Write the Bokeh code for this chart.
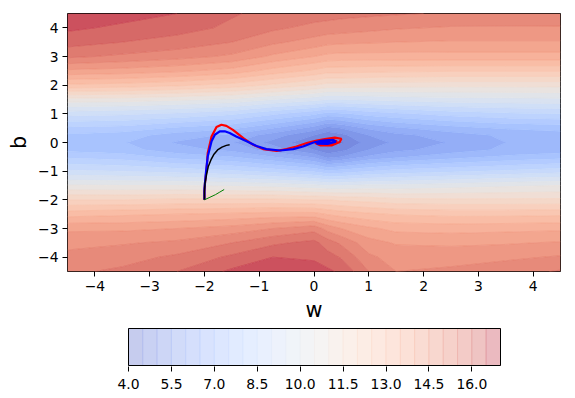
import numpy as np
from bokeh.plotting import figure
from bokeh.layouts import column
from bokeh.models import FixedTicker, NumeralTickFormatter
from bokeh.embed import file_html
from bokeh.resources import INLINE

# ---------------- data ----------------
W_GRID = [-4.5, -3.5, -2.5, -1.5, -0.75, 0.0, 0.25, 0.5, 1.0, 1.5, 2.5, 3.5, 4.5]
B_GRID = [-4.5, -4.0, -3.5, -3.0, -2.5, -2.0, -1.5, -1.0, -0.5, -0.25, 0.0,
          0.25, 0.5, 1.0, 1.5, 2.0, 2.5, 3.0, 3.5, 4.0, 4.5]
# loss value at (w, b): one row per b, one column per w
LOSS = [
    [15.4, 15.6, 16.0, 16.6, 16.9, 16.8, 16.6, 16.4, 15.5, 15.0, 15.1, 15.3, 15.55],
    [15.15, 15.3, 15.6, 16.1, 16.5, 16.4, 16.2, 15.95, 15.1, 14.8, 14.8, 14.9, 15.05],
    [14.85, 14.95, 15.1, 15.5, 15.9, 16.15, 15.75, 15.4, 14.7, 14.45, 14.4, 14.45, 14.55],
    [14.4, 14.4, 14.5, 14.7, 15.0, 15.3, 14.8, 14.5, 14.1, 13.85, 13.8, 13.85, 13.9],
    [13.3, 13.4, 13.5, 13.6, 13.7, 13.7, 13.45, 13.3, 13.1, 12.95, 12.85, 12.85, 12.9],
    [12.0, 12.0, 12.1, 12.1, 12.1, 12.0, 12.0, 11.9, 11.8, 11.65, 11.6, 11.6, 11.6],
    [10.55, 10.5, 10.5, 10.4, 10.3, 10.1, 10.0, 10.0, 10.1, 10.1, 10.25, 10.4, 10.5],
    [9.1, 9.0, 8.8, 8.6, 8.3, 7.9, 7.6, 7.7, 8.0, 8.2, 8.4, 8.6, 8.8],
    [7.9, 7.75, 7.3, 7.0, 6.5, 5.9, 5.3, 5.5, 6.1, 6.4, 6.8, 7.1, 7.3],
    [7.35, 7.2, 6.7, 6.35, 5.75, 5.0, 4.65, 4.85, 5.5, 5.85, 6.25, 6.6, 6.75],
    [7.2, 7.05, 6.45, 6.05, 5.35, 4.6, 4.25, 4.45, 5.25, 5.6, 6.05, 6.5, 6.6],
    [7.4, 7.25, 6.75, 6.4, 5.75, 5.0, 4.7, 4.85, 5.5, 5.85, 6.25, 6.6, 6.75],
    [7.9, 7.8, 7.4, 7.1, 6.5, 5.8, 5.3, 5.5, 6.1, 6.4, 6.8, 7.05, 7.2],
    [9.2, 9.1, 8.9, 8.6, 8.1, 7.6, 7.3, 7.4, 7.7, 7.9, 8.2, 8.4, 8.5],
    [10.8, 10.75, 10.6, 10.4, 10.0, 9.7, 9.5, 9.5, 9.6, 9.7, 9.8, 9.85, 9.9],
    [12.9, 12.8, 12.6, 12.3, 11.9, 11.5, 11.3, 11.3, 11.25, 11.2, 11.15, 11.15, 11.15],
    [14.4, 14.3, 14.1, 13.8, 13.3, 12.9, 12.7, 12.7, 12.65, 12.6, 12.55, 12.55, 12.55],
    [15.6, 15.4, 15.2, 14.9, 14.4, 14.0, 13.85, 13.8, 13.8, 13.8, 13.8, 13.8, 13.8],
    [16.2, 16.0, 15.8, 15.5, 15.1, 14.8, 14.65, 14.6, 14.55, 14.5, 14.45, 14.45, 14.45],
    [16.6, 16.4, 16.2, 15.9, 15.6, 15.35, 15.3, 15.25, 15.15, 15.05, 14.95, 14.95, 14.95],
    [16.9, 16.7, 16.5, 16.05, 15.85, 15.75, 15.7, 15.65, 15.6, 15.55, 15.45, 15.4, 15.35],
]
LEVELS = [4.0, 4.5, 5.0, 5.5, 6.0, 6.5, 7.0, 7.5, 8.0, 8.5, 9.0, 9.5, 10.0, 10.5,
          11.0, 11.5, 12.0, 12.5, 13.0, 13.5, 14.0, 14.5, 15.0, 15.5, 16.0, 16.5, 17.0]
CB_TICKS = [4.0, 5.5, 7.0, 8.5, 10.0, 11.5, 13.0, 14.5, 16.0]
AXIS_TICKS = [-4, -3, -2, -1, 0, 1, 2, 3, 4]

# optimizer trajectories
RED_W = [-2.0, -2.0, -1.99, -1.96, -1.94, -1.87, -1.78, -1.69, -1.6, -1.48, -1.29, -1.11,
         -0.93, -0.68, -0.5, -0.32, -0.13, 0.05, 0.2, 0.38, 0.5, 0.47, 0.32, 0.12, 0.02,
         0.1, 0.3, 0.42, 0.35, 0.2, 0.15, 0.25]
RED_B = [-2.0, -1.7, -1.42, -0.9, -0.37, 0.21, 0.54, 0.62, 0.58, 0.44, 0.15, -0.08,
         -0.23, -0.29, -0.23, -0.14, -0.02, 0.07, 0.12, 0.17, 0.13, 0.02, -0.1, -0.1, -0.02,
         0.06, 0.09, 0.05, -0.03, -0.03, 0.02, 0.04]
BLUE_W = [-2.0, -2.0, -1.97, -1.94, -1.87, -1.81, -1.72, -1.63, -1.54, -1.42, -1.23, -1.05,
          -0.87, -0.62, -0.38, -0.2, -0.01, 0.15, 0.35, 0.4, 0.25, 0.05, 0.08, 0.3, 0.22]
BLUE_B = [-2.0, -1.6, -1.0, -0.49, 0.04, 0.27, 0.39, 0.39, 0.33, 0.21, 0.04, -0.12,
          -0.23, -0.28, -0.23, -0.14, 0.0, 0.07, 0.09, 0.03, -0.05, -0.04, 0.03, 0.04, 0.0]
BLACK_W = [-2.0, -2.0, -1.99, -1.96, -1.93, -1.88, -1.83, -1.76, -1.68, -1.6, -1.54]
BLACK_B = [-2.0, -1.7, -1.42, -1.1, -0.84, -0.6, -0.42, -0.26, -0.16, -0.1, -0.08]
GREEN_W = [-2.0, -1.9, -1.8, -1.72, -1.64]
GREEN_B = [-2.0, -1.91, -1.82, -1.73, -1.64]

# ---------------- colour map (matplotlib coolwarm anchors) ----------------
CW_R = [0.2298057, 0.26623388, 0.30386891, 0.342804478, 0.38301334, 0.424369608, 0.46666708,
        0.509635204, 0.552953156, 0.596262162, 0.639176211, 0.681291281, 0.722193294,
        0.761464949, 0.798691636, 0.833466556, 0.865395197, 0.897787179, 0.924127593,
        0.944468518, 0.958852946, 0.96732803, 0.969954137, 0.966811177, 0.958003065,
        0.943660866, 0.923944917, 0.89904617, 0.869186849, 0.834620542, 0.795631745,
        0.752534934, 0.705673158]
CW_G = [0.298717966, 0.353094838, 0.406535296, 0.458757618, 0.50941904, 0.558148092,
        0.604562568, 0.648280772, 0.688929332, 0.726149107, 0.759599947, 0.788964712,
        0.813952739, 0.834302879, 0.849786142, 0.860207984, 0.86541021, 0.848937047,
        0.827384882, 0.800927443, 0.769767752, 0.734132809, 0.694266682, 0.650421156,
        0.602842431, 0.551750968, 0.49730856, 0.439559467, 0.378313092, 0.312874446,
        0.24128379, 0.157246067, 0.01555616]
CW_B = [0.753683153, 0.801466763, 0.84495867, 0.883725899, 0.917387822, 0.945619588,
        0.968154911, 0.98478814, 0.995375608, 0.999836203, 0.998151185, 0.990363227,
        0.976574709, 0.956945269, 0.931688648, 0.901068838, 0.865395561, 0.820880546,
        0.774508472, 0.726736146, 0.678007945, 0.628751763, 0.579375448, 0.530263762,
        0.481775914, 0.434243684, 0.387970225, 0.343229596, 0.300267182, 0.259301199,
        0.220525627, 0.184115123, 0.150232812]
CW_T = np.linspace(0.0, 1.0, len(CW_R))


def cmap_hex(t, alpha):
    rgb = [np.interp(t, CW_T, ch) for ch in (CW_R, CW_G, CW_B)]
    return "#%02x%02x%02x" % tuple(int(round(255 - alpha * (255 - 255 * c))) for c in rgb)


lo, hi = LEVELS[0], LEVELS[-1]
band_t = [((LEVELS[i] + LEVELS[i + 1]) / 2 - lo) / (hi - lo) for i in range(len(LEVELS) - 1)]
line_t = [band_t[min(i, len(band_t) - 1)] for i in range(len(LEVELS))]
fill_main = [cmap_hex(t, 0.76) for t in band_t]
line_main = [cmap_hex(t, 0.86) for t in line_t]
fill_cb = [cmap_hex(t, 0.30) for t in band_t]
line_cb = [cmap_hex(t, 0.42) for t in band_t]

FONT = "DejaVu Sans"

# layout (pixels)
LEFT, FRAME_W, RIGHT = 67, 493, 15
TOP, FRAME_H, BOTTOM = 13, 258, 52
BAR_X0, BAR_X1 = 61, 433          # colour bar position inside the lower frame
BAR_H = 37


def style_axis(ax, lab=None):
    if lab is not None:
        ax.axis_label = lab
        ax.axis_label_text_font = FONT
        ax.axis_label_text_font_size = "20.8px"
        ax.axis_label_text_font_style = "normal"
        ax.axis_label_text_color = "black"
        ax.axis_label_standoff = 4
    ax.major_label_text_font = FONT
    ax.major_label_text_font_size = "13.9px"
    ax.major_label_text_color = "black"
    ax.major_label_standoff = 4
    ax.major_tick_in = 0
    ax.major_tick_out = 5
    ax.major_tick_line_color = "black"
    ax.minor_tick_in = 0
    ax.minor_tick_out = 0
    ax.axis_line_color = None


# ---------------- main figure ----------------
p = figure(frame_width=FRAME_W, frame_height=FRAME_H, x_range=(-4.5, 4.5), y_range=(-4.5, 4.5),
           output_backend="svg", toolbar_location=None,
           min_border_left=LEFT, min_border_right=RIGHT, min_border_top=TOP,
           min_border_bottom=BOTTOM)
p.background_fill_color = "white"
p.border_fill_color = "white"
p.outline_line_color = "black"
p.outline_line_width = 1
p.outline_line_alpha = 1
p.grid.visible = False

p.contour(x=W_GRID, y=B_GRID, z=np.array(LOSS), levels=LEVELS,
          fill_color=fill_main, line_color=line_main, line_width=0.7)

p.line(RED_W, RED_B, line_color="#ff0000", line_width=2.2)
p.line(BLUE_W, BLUE_B, line_color="#0000ff", line_width=2.2)
p.line(BLACK_W, BLACK_B, line_color="black", line_width=1.5)
p.line(GREEN_W, GREEN_B, line_color="#008000", line_width=1.0)

for ax, lab in ((p.xaxis, "w"), (p.yaxis, "b")):
    ax.ticker = FixedTicker(ticks=AXIS_TICKS)
    ax.major_label_overrides = {t: str(t).replace("-", "\u2212") for t in AXIS_TICKS}
    style_axis(ax, lab)

# ---------------- colour bar figure (same frame width, bar drawn inside) ----------------
unit = (BAR_X1 - BAR_X0) / (LEVELS[-1] - LEVELS[0])
cb_x0 = LEVELS[0] - BAR_X0 / unit
cb_x1 = LEVELS[-1] + (FRAME_W - BAR_X1) / unit
pad = 1.0 / BAR_H
cb = figure(frame_width=FRAME_W, frame_height=BAR_H + 2, x_range=(cb_x0, cb_x1),
            y_range=(-pad, 1 + pad), output_backend="svg", toolbar_location=None,
            min_border_left=LEFT, min_border_right=RIGHT, min_border_top=3,
            min_border_bottom=398 - (TOP + FRAME_H + BOTTOM) - 3 - (BAR_H + 2))
cb.background_fill_color = "white"
cb.border_fill_color = "white"
cb.outline_line_color = None
cb.grid.visible = False
cb.quad(left=LEVELS[:-1], right=LEVELS[1:], bottom=0, top=1,
        fill_color=fill_cb, line_color=line_cb, line_width=1)
cb.quad(left=[LEVELS[0]], right=[LEVELS[-1]], bottom=[0], top=[1],
        fill_color=None, line_color="black", line_width=1)
cb.yaxis.visible = False
cb.xaxis.ticker = FixedTicker(ticks=CB_TICKS)
cb.xaxis.formatter = NumeralTickFormatter(format="0.0")
style_axis(cb.xaxis)
cb.xaxis.major_label_standoff = 7

layout = column(p, cb)
open("out.html", "w").write(file_html(layout, INLINE))
